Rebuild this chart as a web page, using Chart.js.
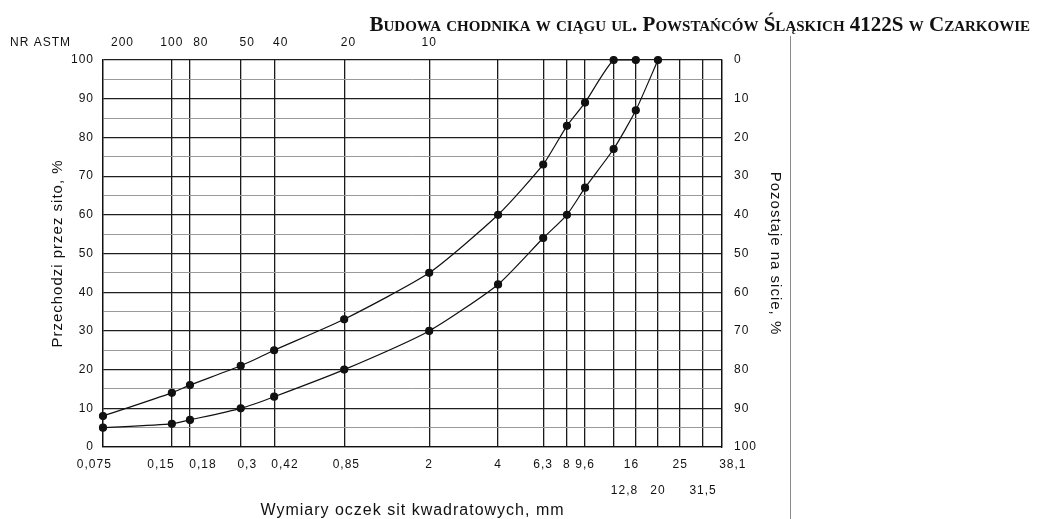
<!DOCTYPE html>
<html>
<head>
<meta charset="utf-8">
<script src="https://cdn.jsdelivr.net/npm/chart.js@4.4.0/dist/chart.umd.min.js"></script>
<style>
  html, body { margin: 0; padding: 0; background: #fff; }
  #wrap { width: 1037px; height: 519px; }
</style>
</head>
<body>
<div id="wrap"><canvas id="chart" width="1037" height="519"></canvas></div>
<script>
// sieve sizes on the bottom axis (mm)
const sieveSizes = [0.075, 0.15, 0.18, 0.3, 0.42, 0.85, 2, 4, 6.3, 8, 9.6, 12.8, 16, 20, 25, 31.5, 38.1];
// labels put on the second row
const secondRowSizes = [12.8, 20, 31.5];

// ASTM sieve numbers on the top axis
const astmSizes = [0.075, 0.15, 0.18, 0.3, 0.42, 0.85, 2];
const astmLabels = ['200', '100', '80', '50', '40', '20', '10'];

// upper grading limit (finer)
const upperSizes = [0.075, 0.15, 0.18, 0.3, 0.42, 0.85, 2, 4, 6.3, 8, 9.6, 12.8, 16];
const upperPassing = [8, 14, 16, 21, 25, 33, 45, 60, 73, 83, 89, 100, 100];

// lower grading limit (coarser)
const lowerSizes = [0.075, 0.15, 0.18, 0.3, 0.42, 0.85, 2, 4, 6.3, 8, 9.6, 12.8, 16, 20];
const lowerPassing = [5, 6, 7, 10, 13, 20, 30, 42, 54, 60, 67, 77, 87, 100];

const titleText = 'Budowa chodnika w ciągu ul. Powstańców Śląskich 4122S w Czarkowie';

const ink = '#111';
const sans = '"Liberation Sans", Arial, sans-serif';
const tickFont = { family: sans, size: 12 };

// the scanned sheet has some labels set a bit off their grid line;
// shift them by padding with spaces (about 2px per space)
const bottomNudge = { 0.075: -9, 0.15: -11, 0.18: 14, 0.3: 7, 0.42: 10, 0.85: 3, 12.8: 10, 16: -4, 38.1: 10 };
const topNudge = { 0.075: 20, 0.18: 10, 0.3: 7, 0.42: 6, 0.85: 5 };

function nudge(text, px) {
  if (!px) return text;
  const pad = ' '.repeat(Math.round(Math.abs(px) / 2.17));
  return px > 0 ? pad + text : text + pad;
}

function toPoints(xs, ys) {
  return xs.map((x, i) => ({ x: x, y: ys[i] }));
}

function fmt(v) {
  return String(v).replace('.', ',');
}

const decorations = {
  id: 'decorations',
  beforeDraw(chart) {
    chart.ctx.letterSpacing = '1px';
  },
  afterDraw(chart) {
    const ctx = chart.ctx;
    ctx.save();
    ctx.letterSpacing = '1px';
    ctx.fillStyle = ink;
    ctx.font = '12px ' + sans;
    ctx.textAlign = 'left';
    ctx.textBaseline = 'middle';
    ctx.fillText('NR ASTM', 10, 43);

    // document title
    ctx.letterSpacing = '0px';
    ctx.font = 'small-caps bold 21px "Liberation Serif", "DejaVu Serif", serif';
    ctx.textAlign = 'right';
    ctx.textBaseline = 'alphabetic';
    ctx.fillText(titleText, 1030, 31);

    // page separator
    ctx.strokeStyle = '#8a8a8a';
    ctx.lineWidth = 1;
    ctx.beginPath();
    ctx.moveTo(790.5, 36);
    ctx.lineTo(790.5, 519);
    ctx.stroke();
    ctx.restore();
  }
};

const lineStyle = {
  borderColor: ink,
  backgroundColor: ink,
  borderWidth: 1.2,
  pointRadius: 3.5,
  pointBackgroundColor: ink,
  pointBorderColor: ink,
  tension: 0.2,
  showLine: true,
  fill: false,
  clip: false
};

new Chart(document.getElementById('chart'), {
  type: 'line',
  plugins: [decorations],
  data: {
    datasets: [
      Object.assign({ label: 'Górna granica', data: toPoints(upperSizes, upperPassing) }, lineStyle),
      Object.assign({ label: 'Dolna granica', data: toPoints(lowerSizes, lowerPassing) }, lineStyle)
    ]
  },
  options: {
    responsive: false,
    animation: false,
    layout: { padding: { left: 44, right: 253, top: 0, bottom: 0 } },
    plugins: {
      legend: { display: false },
      tooltip: { enabled: false }
    },
    scales: {
      x: {
        type: 'logarithmic',
        position: 'bottom',
        min: 0.075,
        max: 38.1,
        afterBuildTicks: s => { s.ticks = sieveSizes.map(v => ({ value: v })); },
        afterFit: s => { s.height = 72; },
        ticks: {
          autoSkip: false,
          maxRotation: 0,
          padding: 4,
          color: ink,
          font: Object.assign({ lineHeight: 2.2 }, tickFont),
          callback: (v, i) => {
            const size = sieveSizes[i];
            const label = nudge(fmt(size), bottomNudge[size]);
            return secondRowSizes.includes(size) ? ['', label] : label;
          }
        },
        grid: { color: '#1a1a1a', lineWidth: 1.3, drawTicks: false },
        border: { color: ink, width: 1.3 },
        title: {
          display: true,
          text: 'Wymiary oczek sit kwadratowych, mm',
          color: ink,
          padding: 0,
          font: { family: sans, size: 16, lineHeight: 1 }
        }
      },
      x2: {
        type: 'logarithmic',
        position: 'top',
        min: 0.075,
        max: 38.1,
        afterBuildTicks: s => { s.ticks = astmSizes.map(v => ({ value: v })); },
        afterFit: s => { s.height = 60; },
        ticks: {
          autoSkip: false,
          maxRotation: 0,
          padding: 10,
          color: ink,
          font: tickFont,
          callback: (v, i) => nudge(astmLabels[i], topNudge[astmSizes[i]])
        },
        grid: { display: false, drawTicks: false },
        border: { display: false }
      },
      y: {
        position: 'left',
        min: 0,
        max: 100,
        afterFit: s => { s.width = 59; },
        ticks: {
          stepSize: 5,
          padding: 9,
          color: ink,
          font: tickFont,
          callback: v => (v % 10 === 0 ? String(v) : '')
        },
        grid: {
          drawTicks: false,
          color: c => (c.tick && c.tick.value % 10 === 0 ? '#1e1e1e' : '#9a9a9a'),
          lineWidth: c => (c.tick && c.tick.value % 10 === 0 ? 1.2 : 1)
        },
        border: { color: ink, width: 1.3 },
        title: {
          display: true,
          text: 'Przechodzi przez sito, %',
          color: ink,
          padding: { top: 5, bottom: 0 },
          font: { family: sans, size: 15 }
        }
      },
      y2: {
        position: 'right',
        min: 0,
        max: 100,
        reverse: true,
        afterFit: s => { s.width = 62; },
        ticks: {
          stepSize: 10,
          padding: 12,
          color: ink,
          font: tickFont
        },
        grid: { display: false, drawTicks: false },
        border: { color: ink, width: 1.3 },
        title: {
          display: true,
          text: 'Pozostaje na sicie, %',
          color: ink,
          padding: { top: 0, bottom: 0 },
          font: { family: sans, size: 15 }
        }
      }
    }
  }
});
</script>
</body>
</html>
